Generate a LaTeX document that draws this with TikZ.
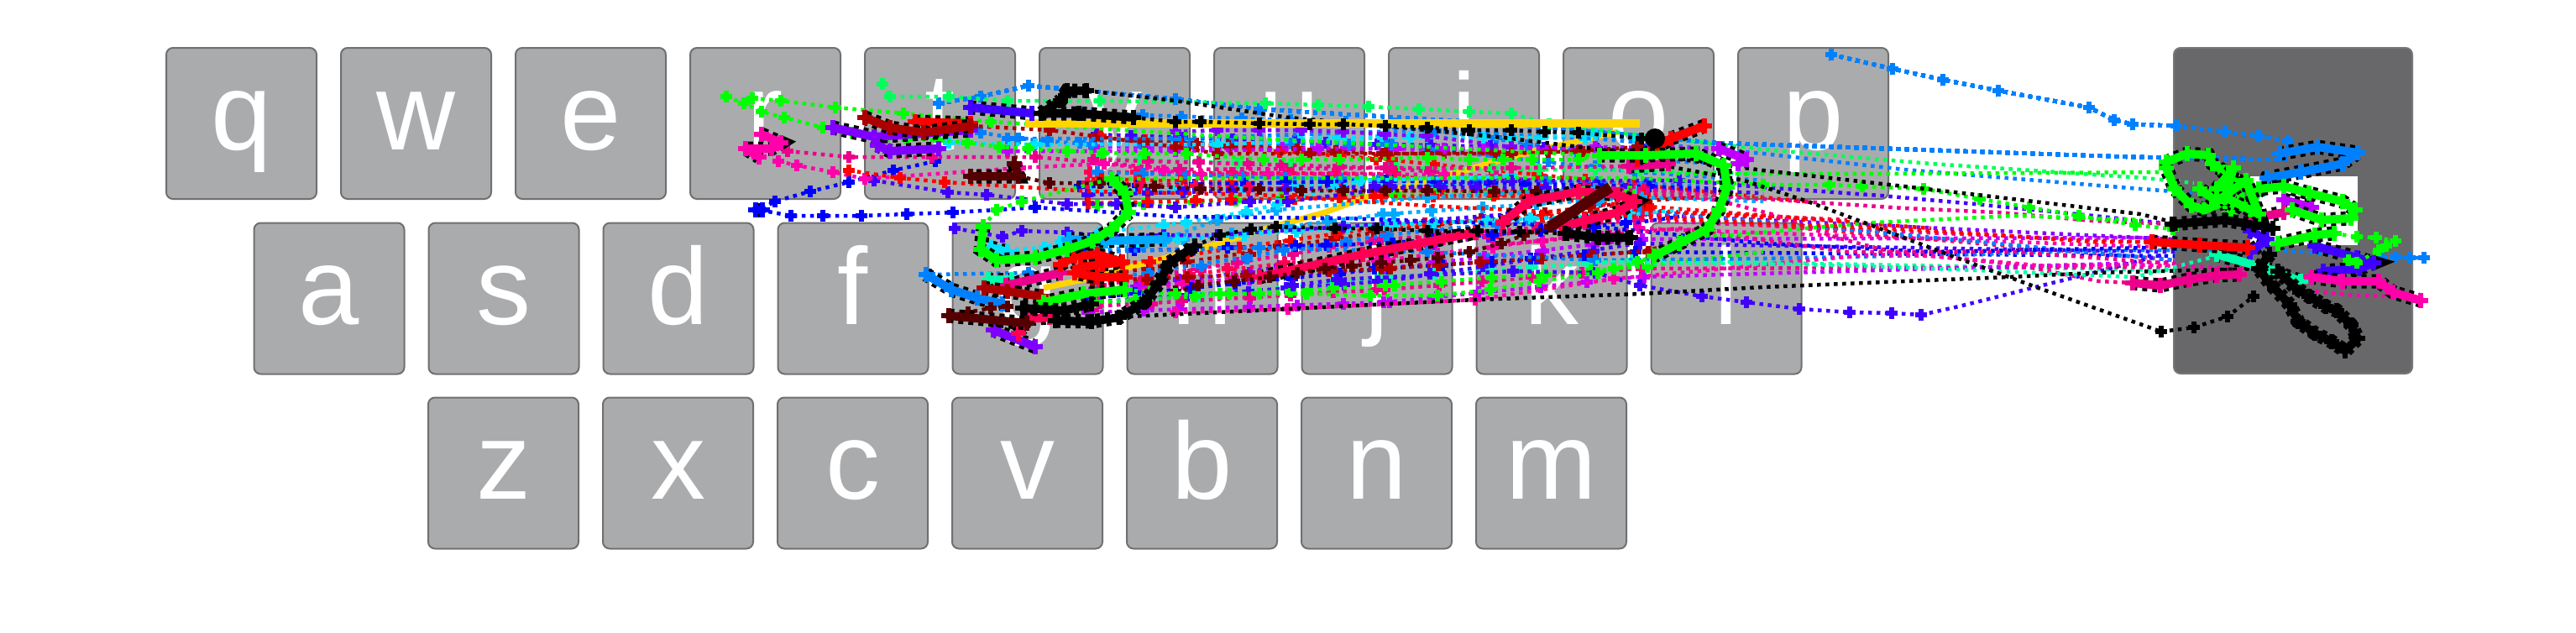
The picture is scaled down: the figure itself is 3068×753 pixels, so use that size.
\documentclass[tikz,border=0pt]{standalone}
\usepackage{fontspec}
\setmainfont{Liberation Sans}
\definecolor{keygray}{RGB}{170,171,173}
\definecolor{keyedge}{RGB}{112,112,114}
\definecolor{erasegray}{RGB}{104,104,106}
\definecolor{tblue}{RGB}{0,128,255}
\definecolor{skyblue}{RGB}{0,170,255}
\definecolor{tcyan}{RGB}{0,225,255}
\definecolor{tgreen}{RGB}{0,255,0}
\definecolor{sgreen}{RGB}{0,255,90}
\definecolor{mint}{RGB}{0,255,170}
\definecolor{indigo}{RGB}{64,0,255}
\definecolor{violet}{RGB}{128,0,255}
\definecolor{orchid}{RGB}{191,0,255}
\definecolor{hotpink}{RGB}{255,0,170}
\definecolor{crimson}{RGB}{255,0,85}
\definecolor{darkred}{RGB}{170,0,0}
\definecolor{maroon}{RGB}{85,0,0}
\definecolor{gold}{RGB}{255,213,0}
\pgfdeclareplotmark{fatplus}{%
  \pgfsetdash{}{0pt}\pgfsetlinewidth{6pt}\pgfsetbuttcap
  \pgfpathmoveto{\pgfqpoint{-\pgfplotmarksize}{0pt}}\pgfpathlineto{\pgfqpoint{\pgfplotmarksize}{0pt}}
  \pgfpathmoveto{\pgfqpoint{0pt}{-\pgfplotmarksize}}\pgfpathlineto{\pgfqpoint{0pt}{\pgfplotmarksize}}
  \pgfusepathqstroke}
\tikzset{
  keycap/.style={draw=keyedge,fill=keygray,line width=2pt,rounded corners=8pt,inner sep=0pt,
    minimum width=179pt,minimum height=180pt,text=white,text height=100pt,text depth=38pt,
    font=\fontsize{130}{130}\selectfont},
  tracepath/.style={line width=4.5pt,dash pattern=on 4.5pt off 5.5pt},
  blobpath/.style={line width=10pt,line join=round,line cap=round,
    preaction={draw,line width=17pt,line cap=butt,dash pattern=on 6pt off 6pt}}
}
\newcommand{\dragtrace}[2]{\draw[tracepath,#1] plot[mark=fatplus,mark size=7pt] coordinates {#2};}
\newcommand{\dragblob}[2]{\draw[blobpath,#1] plot[mark=fatplus,mark size=9pt] coordinates {#2};}
% row through the crowded middle: dots all the way, crosses up to x=1950
\newcommand{\fillrow}[6]{%
  \draw[tracepath,#1] (1300,#2) -- (1650,#3) -- (1950,#4) -- (#5,#6);
  \draw[#1] plot[only marks,mark=fatplus,mark size=7pt,domain=0:1,samples=7] ({1300+350*\x+rand*14},{#2+(#3-#2)*\x});
  \draw[#1] plot[only marks,mark=fatplus,mark size=7pt,domain=0:1,samples=6] ({1650+300*\x+rand*14},{#3+(#4-#3)*\x});}
\begin{document}
\begin{tikzpicture}[x=1pt,y=-1pt]
\useasboundingbox (0,0) rectangle (3068,753);
\pgfmathsetseed{7}
% keyboard
\foreach \ch [count=\i from 0] in {q,w,e,r,t,y,u,i,o,p}
  \node[keycap] (\ch) at ({287.5+208*\i},147) {\ch};
\foreach \ch [count=\i from 0] in {a,s,d,f,g,h,j,k,l}
  \node[keycap] (\ch) at ({392+208*\i},355.5) {\ch};
\foreach \ch [count=\i from 0] in {z,x,c,v,b,n,m}
  \node[keycap] (\ch) at ({599.5+208*\i},563.5) {\ch};
\node[keycap,draw=erasegray!90!white,fill=erasegray,minimum width=284pt,minimum height=388pt] (erase) at (2731,251) {};
\node[fill=white,inner sep=0pt,minimum width=128pt,minimum height=82pt] (erasebar) at (2744,251) {};
\draw[gold,line width=7pt] (1243,343) -- (1290,333) -- (1370,312) -- (1427,297) -- (1517,270) -- (1578,253) -- (1632,233) -- (1730,207) -- (1815,183) -- (1927,157);
% crowded rows
\foreach \col/\ya/\yb/\yc/\xe/\ye in {
  tblue/135/147/190/2050/195, tcyan/170/163/165/2000/170, indigo/160/172/178/2040/182,
  orchid/175/177/180/2050/176, tblue/170/172/205/2100/215, red/162/190/220/2150/240,
  darkred/165/183/180/1990/178, sgreen/188/200/203/2100/207, magenta/190/200/225/2100/238,
  crimson/205/207/250/2200/262, tblue/205/215/218/2030/222, red/213/222/245/2300/272,
  tcyan/228/217/228/2000/232, blue/222/215/222/2050/225, crimson/218/228/225/2020/228,
  indigo/232/222/225/2100/230, tgreen/245/232/228/2100/235, red/242/234/232/2020/236,
  violet/350/300/255/2590/285, magenta/340/285/262/2590/290, darkred/330/275/240/2020/235,
  orchid/345/320/285/2590/283, mint/365/330/310/2590/322, indigo/360/335/290/2590/300,
  hotpink/352/310/272/2590/295, crimson/340/300/255/2590/310, blue/355/320/300/2590/305,
  tblue/335/280/250/2590/310, skyblue/300/255/235/2100/240, red/320/270/250/2150/262,
  darkred/335/320/300/2000/290, magenta/365/345/320/2590/318, orchid/372/360/330/2590/312,
  tgreen/360/340/318/2100/300, blue/300/290/265/2000/258, tcyan/292/268/255/2000/250}
  \fillrow{\col}{\ya}{\yb}{\yc}{\xe}{\ye}
% fast rows
\dragtrace{tblue}{(2181,65) (2254,82) (2314,95) (2380,108) (2488,128) (2518,143) (2540,148) (2592,150) (2650,157) (2690,162) (2725,168)}
\dragtrace{tblue}{(1118,123) (1168,115) (1225,102) (1400,118) (1500,130) (1800,148)}
\draw[tracepath,tblue] (1800,148) -- (2040,170) -- (2540,187) -- (2725,190);
\dragtrace{tblue}{(1200,165) (1400,165) (1700,155)}
\draw[tracepath,tblue] (1700,155) -- (1900,165) -- (2100,183) -- (2268,202) -- (2549,225) -- (2640,232);
\dragtrace{tblue}{(1107,327) (1225,325)}
\dragtrace{tblue}{(1168,158) (1213,165) (1248,168) (1300,172)}
\dragtrace{tblue}{(1300,300) (1500,295) (1700,300) (1900,310)}
\draw[tracepath,tblue] (1900,310) -- (2100,308) -- (2352,303) -- (2493,298) -- (2583,298) -- (2700,297) -- (2837,307);
\dragtrace{tblue}{(2837,307) (2853,306) (2870,307) (2887,307)}
\dragtrace{skyblue}{(1273,285) (1317,287) (1387,285) (1450,262) (1520,250) (1700,235) (1900,225)}
\dragtrace{tcyan}{(1189,298) (1244,295) (1263,288) (1309,277) (1386,268) (1413,265) (1485,252) (1522,243) (1620,215) (1800,210)}
\dragtrace{tcyan}{(1130,170) (1233,172) (1450,172) (1680,163) (1800,165) (1900,160)}
\dragtrace{blue}{(1114,192) (1064,203) (1011,217) (965,228) (923,240) (904,250) (942,257) (980,257) (1026,257) (1080,255) (1135,253) (1187,250) (1233,247)}
\draw[tracepath,blue] (1233,247) -- (1400,258) -- (1600,260) -- (1900,270) -- (2100,290) -- (2300,300) -- (2560,295);
\dragtrace{indigo}{(1137,272) (1194,282) (1217,275) (1271,277) (1328,282) (1386,280) (1450,280) (1600,270) (1800,255)}
\dragtrace{indigo}{(1041,215) (1129,229) (1175,232) (1271,243) (1330,243) (1400,247) (1489,240) (1534,240) (1650,225) (1800,215) (2000,215)}
\draw[tracepath,indigo] (2000,215) -- (2100,223) -- (2240,233) -- (2352,243) -- (2493,257) -- (2588,267);
\dragtrace{indigo}{(1540,340) (1592,333) (1802,323) (1900,325) (1953,340) (2027,353) (2080,360) (2143,368) (2203,372) (2253,373) (2288,375)}
\draw[tracepath,indigo] (2288,375) -- (2333,365) -- (2393,350) -- (2420,343) -- (2493,325) -- (2577,303);
\dragtrace{orchid}{(1200,180) (1400,180) (1570,177) (1720,177) (1900,175) (2047,177)}
\dragtrace{violet}{(1400,157) (1450,155) (1500,155) (1550,155) (1600,157) (1650,160) (1700,162) (1800,175)}
\dragtrace{magenta}{(938,180) (1011,187) (1110,187) (1233,187) (1405,202) (1650,200) (1800,200) (1940,198)}
\draw[tracepath,magenta] (1900,222) -- (2043,238) -- (2110,255) -- (2187,283) -- (2253,300) -- (2350,310) -- (2400,315) -- (2500,335) -- (2540,337);
\draw[tracepath,magenta] (1950,225) -- (2100,237) -- (2268,248) -- (2380,253) -- (2493,263) -- (2588,267);
\draw[tracepath,magenta] (1800,290) -- (2000,272) -- (2200,300) -- (2400,300) -- (2600,315);
\dragtrace{hotpink}{(927,192) (949,197) (992,205) (1030,213) (1215,200) (1315,195) (1386,203) (1430,208) (1510,207) (1720,208)}
\dragtrace{hotpink}{(1400,372) (1534,368) (1757,357) (1922,332)}
\draw[tracepath,hotpink] (1922,332) -- (2033,322) -- (2100,315) -- (2233,303) -- (2300,305) -- (2437,317) -- (2538,315) -- (2680,320);
\draw[tracepath,hotpink] (2757,347) -- (2807,352) -- (2840,353);
\draw[tracepath,mint] (1900,312) -- (2150,315) -- (2250,318) -- (2380,323) -- (2493,328) -- (2543,330) -- (2640,305);
\dragtrace{red}{(1011,203) (1072,212) (1125,217)}
\draw[tracepath,red] (1125,217) -- (1300,228) -- (1500,232) -- (1700,245) -- (1900,255) -- (2040,263) -- (2145,268) -- (2268,273) -- (2380,280) -- (2493,288) -- (2560,288);
\dragtrace{darkred}{(1156,150) (1250,155) (1400,175) (1450,183) (1560,183) (1650,183) (1700,183) (1800,183) (1880,180) (1950,175)}
\dragtrace{maroon}{(1213,210) (1250,218) (1310,218) (1375,222) (1430,225) (1500,225) (1550,227) (1600,227) (1650,227) (1700,227) (1780,228) (1830,228) (1880,228)}
\dragtrace{sgreen}{(1051,100) (1060,115) (1130,115) (1200,120) (1310,120) (1507,123) (1570,125) (1630,127) (1690,130) (1750,133) (1800,135) (1845,148)}
\draw[tracepath,sgreen] (1845,148) -- (2100,178) -- (2300,195) -- (2554,212) -- (2613,218);
\dragtrace{tgreen}{(896,117) (930,120) (995,128) (1076,135) (1180,145)}
\draw[tracepath,tgreen] (1180,145) -- (1500,165) -- (1900,185) -- (2000,207) -- (2250,207) -- (2588,205);
\dragtrace{tgreen}{(1171,270) (1187,250) (1217,240) (1324,213)}
\draw[tracepath,tgreen] (1324,213) -- (1500,212) -- (1950,212) -- (2100,220);
\dragtrace{tgreen}{(2100,220) (2179,220) (2218,222) (2291,225) (2358,237) (2417,247) (2476,257) (2543,268) (2588,273)}
\draw[tracepath,tgreen] (2000,282) -- (2067,280) -- (2150,272) -- (2233,265) -- (2400,257) -- (2550,262);
\dragtrace{tgreen}{(865,115) (886,123) (907,133) (934,140) (980,152) (1015,158) (1057,162) (1080,165) (1118,167) (1152,170) (1190,175) (1225,177) (1271,180) (1313,182) (1363,183) (1413,183) (1505,190) (1550,190) (1595,190) (1700,188) (1750,190) (1790,190) (1825,190) (1880,190) (1905,185)}
\draw[tracepath,black] (1294,108) -- (1400,120) -- (1534,140) -- (1650,150) -- (1800,165) -- (2003,190) -- (2100,203) -- (2268,222) -- (2380,235) -- (2549,255) -- (2590,265);
\draw[tracepath,black] (1970,195) -- (2077,215) -- (2153,240) -- (2233,270) -- (2333,308) -- (2425,342) -- (2574,395);
\dragtrace{black}{(2574,395) (2613,390) (2653,377) (2684,353)}
\draw[tracepath,black] (1345,377) -- (1534,368) -- (1757,357) -- (1953,350) -- (2100,342) -- (2268,335) -- (2392,330) -- (2493,325) -- (2690,320);
% slow parts
\draw[gold,line width=10pt] (1221,147) -- (1953,147);
\dragblob{tblue}{(2715,183) (2760,175) (2808,182) (2790,195) (2740,205) (2700,212) (2695,225)}
\dragblob{tblue}{(1103,327) (1133,345) (1164,355) (1194,362)}
\dragblob{skyblue}{(1273,285) (1317,287) (1387,285)}
\dragblob{tcyan}{(1180,295) (1200,300)}
\dragblob{mint}{(1177,333) (1205,333)}
\dragblob{mint}{(2640,303) (2700,320) (2740,335)}
\dragblob{blue}{(900,250) (908,250)}
\dragblob{indigo}{(1156,128) (1229,135)}
\dragblob{indigo}{(2757,293) (2807,307) (2827,313) (2810,320) (2767,323)}
\dragblob{indigo}{(2680,275) (2700,285) (2680,300)}
\dragblob{violet}{(992,152) (1041,163) (1156,155)}
\dragblob{violet}{(1183,393) (1233,413)}
\dragblob{violet}{(1045,173) (1060,180) (1118,177)}
\dragblob{orchid}{(2047,177) (2080,190) (2070,195)}
\dragblob{orchid}{(2720,238) (2753,247)}
\dragblob{hotpink}{(907,160) (930,170) (919,177) (888,177) (904,187)}
\dragblob{hotpink}{(2753,330) (2790,335) (2833,335) (2850,348) (2883,358)}
\dragblob{crimson}{(1790,265) (1820,240) (1880,228) (1927,232) (1947,240) (1927,253) (1887,263) (1860,270)}
\dragblob{crimson}{(1213,397) (1223,380) (1250,378)}
\dragblob{crimson}{(1500,330) (1623,303) (1690,290) (1757,277)}
\dragblob{magenta}{(1198,340) (1263,325)}
\dragblob{magenta}{(1940,198) (1987,195)}
\dragblob{magenta}{(2540,337) (2573,340) (2607,333) (2640,328) (2667,327)}
\dragblob{magenta}{(2683,260) (2720,253)}
\dragblob{red}{(1263,315) (1280,305) (1307,303) (1337,312) (1313,315) (1287,318) (1280,325) (1307,330) (1340,330)}
\dragblob{red}{(1090,145) (1156,147)}
\dragblob{red}{(1950,190) (1990,165) (2030,150)}
\dragblob{red}{(2563,288) (2620,292) (2677,295)}
\dragblob{darkred}{(1030,140) (1060,152) (1100,158) (1156,150)}
\dragblob{darkred}{(1172,343) (1200,347) (1240,353)}
\dragblob{maroon}{(1208,195) (1213,210) (1156,210)}
\dragtrace{maroon}{(1130,376) (1153,372) (1180,367) (1200,365)}
\dragblob{maroon}{(1130,376) (1223,385)}
\draw[line width=13pt,maroon] (1918,223) -- (1846,270);
\dragtrace{maroon}{(1846,270) (1815,280) (1788,290) (1750,300) (1712,307) (1680,310) (1645,313) (1610,317) (1578,320) (1545,325) (1512,330) (1470,335) (1427,340) (1400,347)}
% green strokes
\dragblob{tgreen}{(2580,193) (2605,183) (2630,185) (2635,195) (2650,205) (2665,215) (2670,240) (2655,255)}
\dragblob{tgreen}{(2580,193) (2580,200) (2590,225) (2610,245) (2625,250) (2650,240) (2680,250) (2690,225) (2720,222) (2750,230) (2790,240) (2805,250)}
\dragblob{tgreen}{(2640,225) (2660,200) (2650,235) (2690,255) (2675,215) (2640,240) (2620,225)}
\dragblob{tgreen}{(2730,250) (2765,262) (2800,260)}
\dragblob{tgreen}{(2713,290) (2757,280) (2780,278)}
\dragtrace{tgreen}{(2780,278) (2807,282) (2830,283) (2853,287) (2842,293) (2833,298) (2807,313) (2797,310)}
\dragblob{tgreen}{(1905,185) (1960,185) (2020,183) (2053,197) (2057,223) (2047,250) (2033,273) (2000,290) (1970,305)}
\dragtrace{tgreen}{(1970,305) (1950,312) (1922,320) (1903,325) (1833,335) (1775,345) (1712,352) (1632,352) (1556,350) (1500,350) (1453,350) (1400,350) (1370,348) (1340,345)}
\dragblob{tgreen}{(1340,345) (1290,350) (1243,360)}
\dragblob{tgreen}{(1171,270) (1168,297) (1187,310) (1233,307) (1271,297) (1301,287) (1324,273) (1344,253) (1340,230) (1324,213)}
% black strokes
\dragblob{black}{(1240,135) (1263,120) (1271,108) (1294,108)}
\dragblob{black}{(1240,135) (1285,135) (1350,140)}
\dragtrace{black}{(1350,140) (1400,145) (1430,145) (1500,147) (1560,148) (1600,148) (1650,150) (1700,152) (1750,155) (1800,155) (1840,157) (1880,158) (1955,165)}
\fill[black] (1971,165) circle (12pt);
\dragblob{black}{(2587,267) (2650,262) (2707,272)}
\dragblob{black}{(1218,367) (1267,370) (1300,362)}
\dragblob{black}{(1257,382) (1300,383) (1333,378) (1363,360) (1380,337) (1393,313) (1423,293)}
\dragtrace{black}{(1423,293) (1453,280) (1490,273) (1520,270) (1590,272) (1640,272) (1700,275) (1760,275) (1810,276) (1864,278)}
\dragblob{black}{(1864,278) (1904,283) (1942,283)}
\dragblob{black}{(2703,303) (2690,320) (2703,337) (2727,363) (2737,383) (2757,397) (2777,407) (2793,418) (2808,403) (2800,387) (2783,370) (2770,365) (2750,353) (2733,342) (2713,323)}
\end{tikzpicture}
\end{document}
